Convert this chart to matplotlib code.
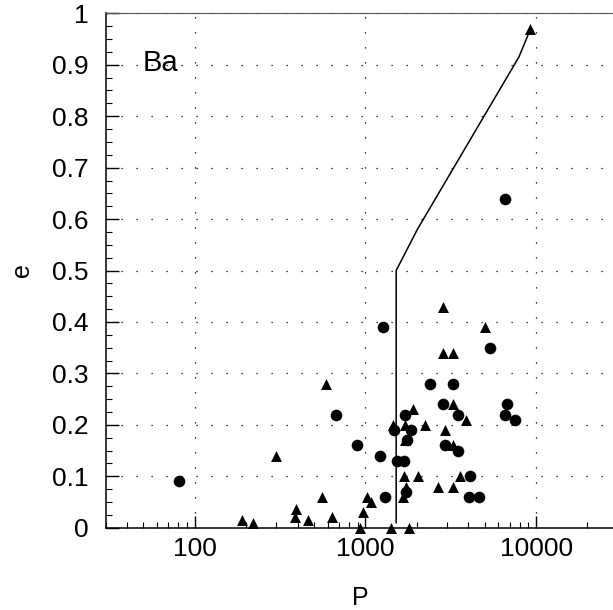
import numpy as np
import matplotlib
matplotlib.use('Agg')
import matplotlib.pyplot as plt
from matplotlib.ticker import FixedLocator, MultipleLocator, LogLocator, NullFormatter

plt.rcParams['font.family'] = ['Liberation Sans', 'DejaVu Sans']

# circles: period P (days) and eccentricity e
circ_P = [81, 1270, 671, 897, 1219, 1306, 1466, 1538, 1682, 1700, 1762, 1839, 1735,
          2393, 2832, 2923, 3265, 3481, 3481, 4120, 4058, 4630, 5338, 6560, 6560, 6760, 7560]
circ_e = [0.09, 0.39, 0.22, 0.16, 0.14, 0.06, 0.19, 0.13, 0.13, 0.22, 0.17, 0.19, 0.07,
          0.28, 0.24, 0.16, 0.28, 0.22, 0.15, 0.10, 0.06, 0.06, 0.35, 0.64, 0.22, 0.24, 0.21]

# triangles
tri_P = [188, 219, 301, 390, 384, 461, 556, 589, 634, 931, 971, 1023, 1073, 1452, 1406,
         1682, 1700, 1700, 1717, 1663, 1791, 1897, 2022, 2248, 2675, 2864, 2864, 3265,
         2912, 3250, 3250, 3265, 3597, 3891, 5012, 9250]
tri_e = [0.015, 0.01, 0.14, 0.036, 0.021, 0.015, 0.06, 0.28, 0.02, 0.0, 0.03, 0.06, 0.05,
         0.20, 0.0, 0.10, 0.20, 0.17, 0.08, 0.06, 0.0, 0.23, 0.10, 0.20, 0.08, 0.43, 0.34,
         0.34, 0.19, 0.24, 0.16, 0.08, 0.10, 0.21, 0.39, 0.97]

# envelope line
line_P = [1514, 1514, 2015, 7930, 9290]
line_e = [0.01, 0.50, 0.58, 0.915, 0.97]

fig = plt.figure(figsize=(6.13, 6.10), dpi=100)
ax = fig.add_axes([0.1723, 0.1348, 0.835, 0.8434])

ax.set_xscale('log')
ax.set_xlim(30, 30000)
ax.set_ylim(0, 1)

ax.plot(line_P, line_e, color='black', lw=1.1, zorder=3)
ax.scatter(circ_P, circ_e, marker='o', s=70, color='black', linewidths=0, zorder=4, clip_on=False)
ax.scatter(tri_P, tri_e, marker='^', s=62, color='black', linewidths=0, zorder=4, clip_on=False)

ax.text(0.073, 0.903, 'Ba', transform=ax.transAxes, fontsize=21, ha='left', va='center')

ax.xaxis.set_major_locator(FixedLocator([100, 1000, 10000]))
ax.set_xticklabels(['100', '1000', '10000'])
ax.xaxis.set_minor_locator(LogLocator(base=10, subs=np.arange(2, 10)))
ax.xaxis.set_minor_formatter(NullFormatter())
ax.yaxis.set_minor_locator(MultipleLocator(0.025))
ax.set_yticks(np.round(np.arange(0, 1.01, 0.1), 1))
ax.set_yticklabels(['0', '0.1', '0.2', '0.3', '0.4', '0.5', '0.6', '0.7', '0.8', '0.9', '1'])

ax.tick_params(which='major', direction='in', length=9, width=1, labelsize=19,
               top=False, right=False)
ax.tick_params(which='minor', direction='in', length=4.5, width=0.8, top=False, right=False)
ax.tick_params(axis='y', which='major', pad=12)
ax.tick_params(axis='x', which='major', pad=7)

ax.grid(True, which='major', color='black', linestyle=(0, (1, 11)), linewidth=0.9)

ax.spines['right'].set_visible(False)
ax.spines['top'].set_color('#555555')
for s in ['left', 'bottom']:
    ax.spines[s].set_linewidth(1.1)

ax.set_xlabel('P', fontsize=18)
ax.set_ylabel('e', fontsize=18)
ax.xaxis.set_label_coords(0.497, -0.136)
ax.yaxis.set_label_coords(-0.163, 0.501)
ax.xaxis.label.set_verticalalignment('center')
ax.yaxis.label.set_verticalalignment('center')

fig.savefig('out.png', dpi=100)
